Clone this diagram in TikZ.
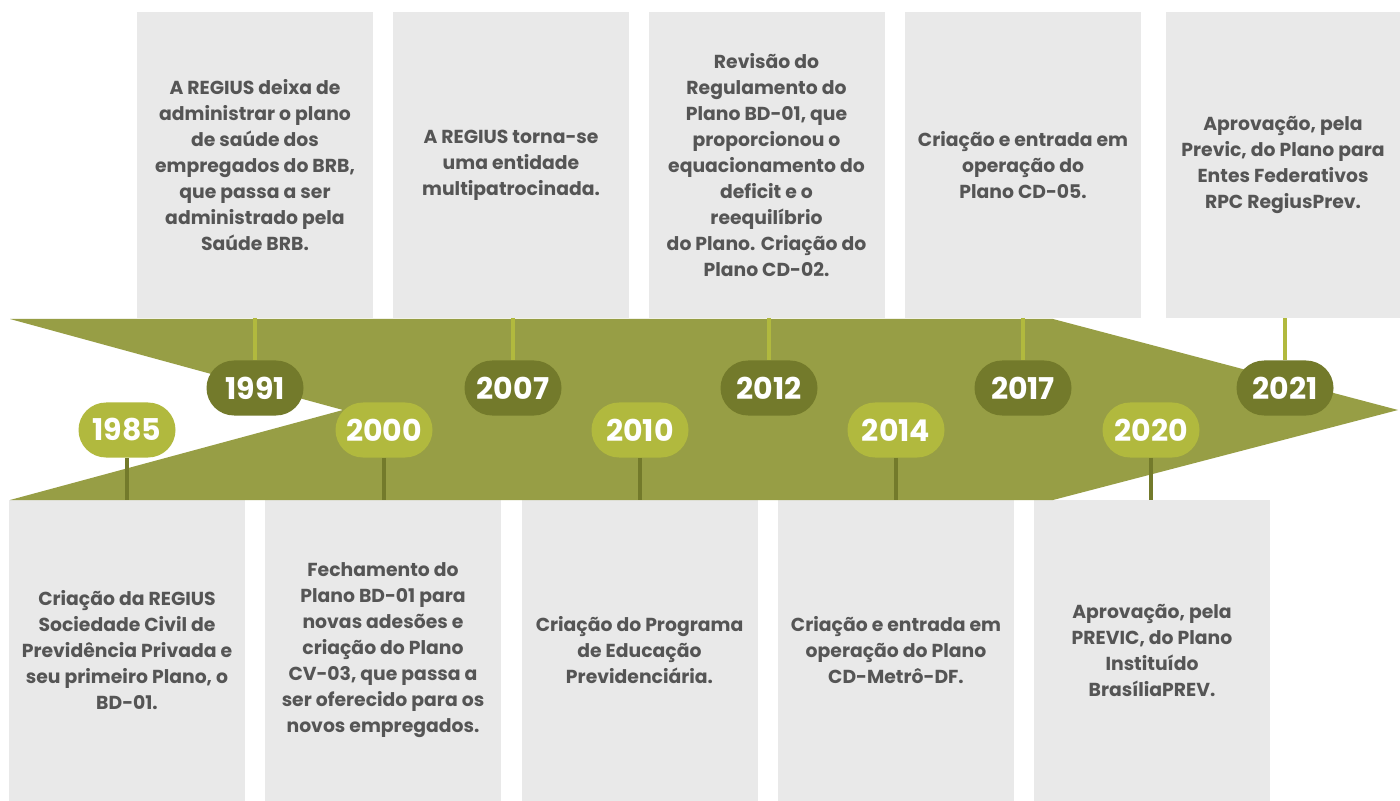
\documentclass[tikz,border=0pt]{standalone}
\usepackage{fontspec}
\setmainfont{Poppins}
\usetikzlibrary{shapes.misc}
\definecolor{band}{HTML}{979E45}
\definecolor{pilldark}{HTML}{737A2B}
\definecolor{pilllight}{HTML}{B1B93E}
\definecolor{boxgray}{HTML}{E9E9E9}
\definecolor{txt}{HTML}{555555}
\tikzset{
  infobox/.style={rectangle, fill=boxgray, inner sep=0pt, minimum width=118pt, align=center, text=txt, font=\fontsize{9.4}{13}\selectfont\bfseries},
  topbox/.style={infobox, minimum height=153pt},
  botbox/.style={infobox, minimum height=150.5pt},
  pill/.style={rounded rectangle, inner sep=0pt, minimum width=48.5pt, minimum height=27.5pt, text=white, font=\fontsize{15}{15}\selectfont\bfseries},
  pilld/.style={pill, fill=pilldark},
  pilll/.style={pill, fill=pilllight},
  uplink/.style={draw=pilllight, line width=2pt},
  downlink/.style={draw=pilldark, line width=2pt}
}
\begin{document}
\begin{tikzpicture}[x=0.5pt,y=-0.5pt]
\useasboundingbox[fill=white] (0,0) rectangle (1400,801);
% top boxes
\node[topbox] (t1) at (255,165) {A REGIUS deixa de\\administrar o plano\\de saúde dos\\empregados do BRB,\\que passa a ser\\administrado pela\\Saúde BRB.};
\node[topbox] (t2) at (511,165) {A REGIUS torna-se\\uma entidade\\multipatrocinada.};
\node[topbox] (t3) at (766.5,165) {Revisão do\\Regulamento do\\Plano BD-01, que\\proporcionou o\\equacionamento do\\deficit e o\\reequilíbrio\\do Plano. Criação do\\Plano CD-02.};
\node[topbox] (t4) at (1023,165) {Criação e entrada em\\operação do\\Plano CD-05.};
\node[topbox, minimum width=117pt] (t5) at (1283,165) {Aprovação, pela\\Previc, do Plano para\\Entes Federativos\\RPC RegiusPrev.};
% bottom boxes
\node[botbox] (b1) at (127,650.5) {Criação da REGIUS\\Sociedade Civil de\\Previdência Privada e\\seu primeiro Plano, o\\BD-01.};
\node[botbox] (b2) at (383,650.5) {Fechamento do\\Plano BD-01 para\\novas adesões e\\criação do Plano\\CV-03, que passa a\\ser oferecido para os\\novos empregados.};
\node[botbox] (b3) at (639.5,650.5) {Criação do Programa\\de Educação\\Previdenciária.};
\node[botbox] (b4) at (896,650.5) {Criação e entrada em\\operação do Plano\\CD-Metrô-DF.};
\node[botbox] (b5) at (1152,650.5) {Aprovação, pela\\PREVIC, do Plano\\Instituído\\BrasíliaPREV.};
% band
\fill[band] (10,319) -- (1053,319) -- (1398,410) -- (1053,500) -- (10,500) -- (343,410) -- cycle;
% pills
\node[pilll] (p1985) at (127,430) {1985};
\node[pilld] (p1991) at (255,388) {1991};
\node[pilll] (p2000) at (384,430) {2000};
\node[pilld] (p2007) at (513,388) {2007};
\node[pilll] (p2010) at (640,430) {2010};
\node[pilld] (p2012) at (769,388) {2012};
\node[pilll] (p2014) at (896,430) {2014};
\node[pilld] (p2017) at (1023,388) {2017};
\node[pilll] (p2020) at (1151,430) {2020};
\node[pilld] (p2021) at (1285,388) {2021};
% connectors
\draw[uplink] (p1991.north) -- (p1991.north |- t1.south);
\draw[uplink] (p2007.north) -- (p2007.north |- t2.south);
\draw[uplink] (p2012.north) -- (p2012.north |- t3.south);
\draw[uplink] (p2017.north) -- (p2017.north |- t4.south);
\draw[uplink] (p2021.north) -- (p2021.north |- t5.south);
\draw[downlink] (p1985.south) -- (p1985.south |- b1.north);
\draw[downlink] (p2000.south) -- (p2000.south |- b2.north);
\draw[downlink] (p2010.south) -- (p2010.south |- b3.north);
\draw[downlink] (p2014.south) -- (p2014.south |- b4.north);
\draw[downlink] (p2020.south) -- (p2020.south |- b5.north);
\end{tikzpicture}
\end{document}
